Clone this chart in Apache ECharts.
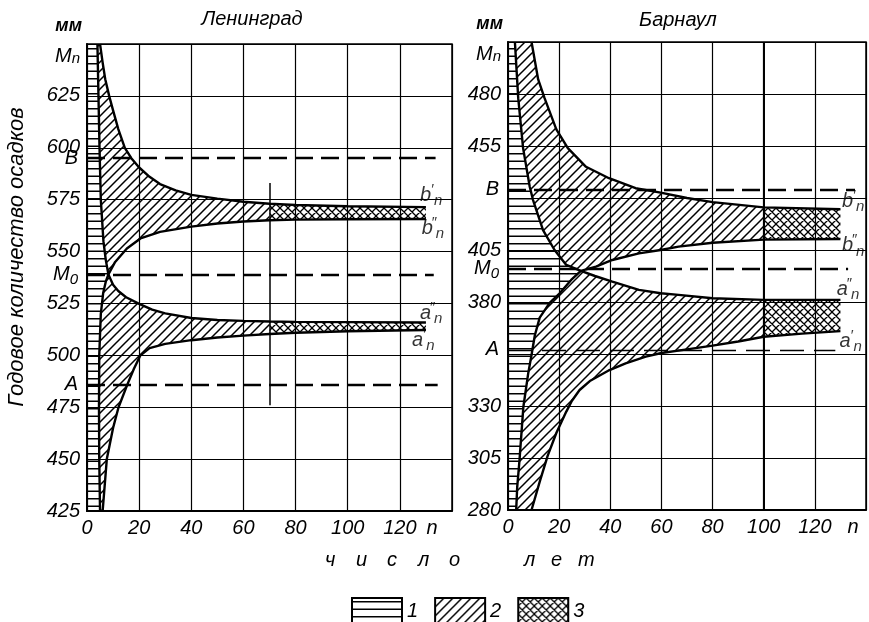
<!DOCTYPE html>
<html><head><meta charset="utf-8">
<script src="https://cdn.jsdelivr.net/npm/echarts@6/dist/echarts.min.js"></script>
<style>html,body{margin:0;padding:0;background:#fff}#c{width:869px;height:622px}</style>
</head><body><div id="c"></div>
<script>
// ---------- axes / ticks ----------
const xMin = 0, xMax = 140, xStep = 20;
const yStep = 25;

// ---------- Ленинград ----------
const lenYMin = 425, lenYMax = 650;
const lenHatchStart = 70;
const lenLevelNames = ['B', 'M0', 'A'];
const lenLevelValues = [595, 539, 486];
const lenLevelEnds = [133.7, 133, 134.5];
const lenMarker = [[70, 476], [70, 583]];
const lenOuterTop = [[5,650],[6,641],[7,633],[8.5,625],[10,618],[12,609],[14.5,600],[17,595],[20,590.5],[24,586],[28,582.5],[34,579.5],[40,577.3],[50,575.5],[60,574],[70,573],[80,572.4],[100,571.8],[130,571.4]];
const lenFallTop = [[4,650],[4.4,625],[4.8,600],[5.3,575],[6.3,555],[7.2,546],[8.2,539]];
const lenAn2 = [[8.2,539],[10,534],[12,531],[15,528],[20,524.8],[25,522],[30,520.2],[40,518],[50,517],[60,516.6],[70,516.3],[80,516.1],[100,516],[130,515.8]];
const lenRiseBottom = [[5,425],[4.7,450],[4.6,475],[4.7,500],[5.3,520],[6.2,530],[7.2,535.5],[8.2,539]];
const lenBn2 = [[8.2,539],[10.8,545],[15.3,551.5],[20.5,556.3],[28,559.5],[40,562],[50,563.5],[60,564.5],[70,565.1],[80,565.4],[100,565.6],[130,565.7]];
const lenOuterBottom = [[6,425],[7.6,450],[10,465],[12.1,475],[15.5,486],[18,493.5],[20.5,500],[24,503.5],[30,505.5],[40,507.3],[50,508.6],[60,509.5],[70,510.3],[80,510.9],[100,511.6],[130,512.2]];
const lenTagPos = [[132,577],[132.7,561],[132,520],[129,507]];
const lenTagLetters = ['b','b','a','a'];
const lenTagPrimes = ['′','″','″','′'];
const lenHiddenTicks = [];

// ---------- Барнаул ----------
const barYMin = 280, barYMax = 505;
const barHatchStart = 100;
const barLevelNames = ['B', 'M0', 'A'];
const barLevelValues = [434, 396, 357];
const barLevelEnds = [135.7, 133, 128];
const barMarker = [[100, 280], [100, 505]];
const barOuterTop = [[9.2,505],[11.8,487],[14.3,478],[18.9,463],[23.4,454],[30.5,445],[39.5,439.5],[49.9,434.7],[59.7,432.6],[70,430],[80,428],[100,425.5],[130,424.6]];
const barFallTop = [[2.7,505],[4,478],[5.9,454],[8.5,435.4],[9.8,429],[13.7,414.6],[18.2,405],[22.8,397.8],[28.5,395]];
const barAn2 = [[28.5,395],[34,392.5],[40.8,389.8],[51.2,385.8],[59.7,384.2],[66.7,383.4],[80,381.8],[100,381],[130,381]];
const barRiseBottom = [[3.2,280],[3.6,291],[4.5,304],[6,329.5],[7.9,345.7],[9.2,354.5],[10.5,364],[12.4,372.5],[16.3,379.6],[20.2,384.2],[24.7,390.6],[28.5,395]];
const barBn2 = [[28.5,395],[34.4,397],[40.8,400.2],[51.2,403.4],[59.7,405],[66.7,406.6],[80,408.5],[100,410],[130,410.3]];
const barOuterBottom = [[9.2,280],[12.5,294],[15.5,306],[18.9,317],[22.8,327.3],[25,332.5],[28,337.7],[32,342],[39.7,347.3],[46,350.5],[53.9,353.7],[60,355.5],[70,357.2],[80,359],[90,361],[100,363.3],[115,364.8],[130,366]];
const barTagPos = [[135,428.5],[135,407],[133,386],[134,361]];
const barTagLetters = ['b','b','a','a'];
const barTagPrimes = ['′','″','″','′'];
const barHiddenTicks = [355, 430];

// ---------- texts ----------
const titles = ['Ленинград', 'Барнаул'];
const yUnit = 'мм';
const yTitle = 'Годовое количество осадков';
const xTitleWord1 = ['ч','и','с','л','о'];
const xTitleWord2 = ['л','е','т'];
const legendNames = ['1', '2', '3'];

const FONT = "'Liberation Sans', Arial, sans-serif";

// ---------- hatch patterns ----------
function makeCanvas(w, h, draw) {
  const c = document.createElement('canvas');
  c.width = w; c.height = h;
  const g = c.getContext('2d');
  g.strokeStyle = '#000';
  draw(g, w, h);
  return c;
}
function slash(g, w, h) {
  g.moveTo(-1, h + 1); g.lineTo(w + 1, -1);
  g.moveTo(-1, 1); g.lineTo(1, -1);
  g.moveTo(w - 1, h + 1); g.lineTo(w + 1, h - 1);
}
function backslash(g, w, h) {
  g.moveTo(-1, -1); g.lineTo(w + 1, h + 1);
  g.moveTo(w - 1, -1); g.lineTo(w + 1, 1);
  g.moveTo(-1, h - 1); g.lineTo(1, h + 1);
}
const patH = { image: makeCanvas(15, 15, (g) => { g.lineWidth = 1.5; g.beginPath(); g.moveTo(0, 3.75); g.lineTo(15, 3.75); g.moveTo(0, 11.25); g.lineTo(15, 11.25); g.stroke(); }), repeat: 'repeat' };
const patD = { image: makeCanvas(9, 9, (g, w, h) => { g.lineWidth = 1.5; g.beginPath(); slash(g, w, h); g.stroke(); }), repeat: 'repeat' };
const patX = { image: makeCanvas(8, 8, (g, w, h) => { g.lineWidth = 1.3; g.beginPath(); slash(g, w, h); backslash(g, w, h); g.stroke(); }), repeat: 'repeat' };

// ---------- helpers ----------
const rev = (a) => a.slice().reverse();
const upTo = (c, h) => c.filter(p => p[0] <= h);
const from = (c, h) => c.filter(p => p[0] >= h);

const baseRich = {
  m: { fontSize: 20, fontStyle: 'italic', fontFamily: FONT, color: '#000', lineHeight: 26 },
  p: { fontSize: 15, fontFamily: FONT, color: '#000', verticalAlign: 'top', lineHeight: 14, width: 3 },
  s: { fontSize: 15, fontStyle: 'italic', fontFamily: FONT, color: '#000', verticalAlign: 'bottom', lineHeight: 15 },
  z: { fontSize: 10, lineHeight: 44, width: 0, verticalAlign: 'top' },
  t: { fontSize: 20, fontStyle: 'italic', fontFamily: FONT, color: '#000', lineHeight: 26, verticalAlign: 'bottom' },
  u: { fontSize: 15, fontStyle: 'italic', fontFamily: FONT, color: '#000', verticalAlign: 'bottom', lineHeight: 15 }
};
function levelLabel(name) {
  if (name === 'M0') return '{m|M}{s|0}';
  return '{m|' + name + '}';
}

function buildPanel(i, d) {
  const H = d.hatch;
  const region1 = [[0, d.yMax]].concat(d.fallTop, rev(d.riseBottom), [[0, d.yMin]]);
  const upperDiag = d.fallTop.concat(upTo(d.bn2, H), rev(upTo(d.outerTop, H)));
  const upperCross = from(d.bn2, H).concat(rev(from(d.outerTop, H)));
  const lowerDiag = d.riseBottom.concat(upTo(d.an2, H), rev(upTo(d.outerBottom, H)));
  const lowerCross = from(d.an2, H).concat(rev(from(d.outerBottom, H)));
  const groups = [[legendNames[0], [region1], patH], [legendNames[1], [upperDiag, lowerDiag], patD], [legendNames[2], [upperCross, lowerCross], patX]];
  const series = [];
  groups.forEach(([name, polys, pat]) => {
    series.push({
      type: 'custom', name, xAxisIndex: i, yAxisIndex: i, z: 1, silent: true, clip: true,
      itemStyle: { color: pat },
      encode: { x: 0, y: 1 },
      data: polys.map((p, k) => [p[0][0], p[0][1], k]),
      renderItem: (params, api) => {
        const poly = polys[api.value(2)];
        return { type: 'polygon', shape: { points: poly.map(pt => api.coord(pt)) }, style: { fill: pat, stroke: null } };
      }
    });
  });
  const outlines = [d.outerTop, d.fallTop.concat(d.an2.slice(1)), d.riseBottom.concat(d.bn2.slice(1)), d.outerBottom];
  outlines.forEach((c, k) => {
    const s = {
      type: 'line', xAxisIndex: i, yAxisIndex: i, data: c, symbol: 'none', showSymbol: false, silent: true, z: 5,
      lineStyle: { color: '#000', width: 2.4 }
    };
    if (k === 1) {
      const ml = d.levelValues.map((v, j) => [
        { coord: [0, v], name: d.levelNames[j],
          lineStyle: d.thinA && d.levelNames[j] === 'A' ? { type: [24, 10], width: 1.4, color: '#000' } : { type: [18, 8], width: 2.4, color: '#000' },
          label: { show: true, position: 'start', distance: 9, formatter: levelLabel(d.levelNames[j]), rich: baseRich } },
        { coord: [d.levelEnds[j], v] }
      ]);
      ml.push([{ coord: d.marker[0], lineStyle: { type: 'solid', width: d.markerWidth, color: '#000' }, label: { show: false } }, { coord: d.marker[1] }]);
      s.markLine = { silent: true, symbol: ['none', 'none'], animation: false, data: ml, z: 6 };
    }
    series.push(s);
  });
  series.push({
    type: 'scatter', xAxisIndex: i, yAxisIndex: i, data: d.tagPos, symbolSize: 1, silent: true, z: 7,
    itemStyle: { color: 'rgba(0,0,0,0)' },
    label: { show: true, position: 'inside', formatter: (p) => '{m|' + d.tagLetters[p.dataIndex] + '}{p|' + d.tagPrimes[p.dataIndex] + '}{s|n}', rich: baseRich }
  });
  return series;
}

const panels = [
  { yMin: lenYMin, yMax: lenYMax, hatch: lenHatchStart, outerTop: lenOuterTop, fallTop: lenFallTop, an2: lenAn2, riseBottom: lenRiseBottom, bn2: lenBn2, outerBottom: lenOuterBottom,
    levelNames: lenLevelNames, levelValues: lenLevelValues, levelEnds: lenLevelEnds, marker: lenMarker, markerWidth: 1.5, tagPos: lenTagPos, tagLetters: lenTagLetters, tagPrimes: lenTagPrimes, hidden: lenHiddenTicks, thinA: false },
  { yMin: barYMin, yMax: barYMax, hatch: barHatchStart, outerTop: barOuterTop, fallTop: barFallTop, an2: barAn2, riseBottom: barRiseBottom, bn2: barBn2, outerBottom: barOuterBottom,
    levelNames: barLevelNames, levelValues: barLevelValues, levelEnds: barLevelEnds, marker: barMarker, markerWidth: 2, tagPos: barTagPos, tagLetters: barTagLetters, tagPrimes: barTagPrimes, hidden: barHiddenTicks, thinA: true }
];

const labelFont = { color: '#000', fontSize: 20, fontStyle: 'italic', fontFamily: FONT };

const option = {
  animation: false,
  backgroundColor: '#fff',
  grid: [
    { left: 87, top: 44, width: 365, height: 467, show: true, borderColor: '#000', borderWidth: 1.5, containLabel: false },
    { left: 508, top: 42, width: 360, height: 468, show: true, borderColor: '#000', borderWidth: 1.5, containLabel: false }
  ],
  xAxis: panels.map((d, i) => ({
    type: 'value', gridIndex: i, min: xMin, max: xMax, interval: xStep,
    name: 'n', nameLocation: 'end', nameGap: i === 0 ? -20 : -13, nameMoveOverlap: false,
    nameTextStyle: Object.assign({}, labelFont, { align: 'center', verticalAlign: 'top', padding: [7, 0, 0, 0] }),
    axisLine: { show: true, lineStyle: { color: '#000', width: 2 } },
    axisTick: { show: false },
    splitLine: { show: true, lineStyle: { color: '#000', width: 1.2 } },
    axisLabel: Object.assign({}, labelFont, { margin: 7, showMinLabel: true, showMaxLabel: true, formatter: (v) => v === xMax ? '' : String(v) })
  })),
  yAxis: panels.map((d, i) => ({
    type: 'value', gridIndex: i, min: d.yMin, max: d.yMax, interval: yStep,
    name: yUnit, nameLocation: 'end', nameGap: 9, nameMoveOverlap: false,
    nameTextStyle: { color: '#000', fontSize: 18, fontStyle: 'italic', fontWeight: 'bold', fontFamily: FONT, align: 'right', padding: [0, 5, 0, 0] },
    axisLine: { show: true, lineStyle: { color: '#000', width: 2 } },
    axisTick: { show: false },
    splitLine: { show: true, lineStyle: { color: '#000', width: 1.2 } },
    axisLabel: Object.assign({}, labelFont, {
      margin: 7, showMinLabel: true, showMaxLabel: true, rich: baseRich,
      formatter: (v) => v === d.yMax ? '{z| }{t|M}{u|n}' : (d.hidden.indexOf(v) >= 0 ? '' : String(v))
    })
  })),
  legend: {
    data: legendNames, left: 346, top: 592, itemWidth: 50, itemHeight: 26, itemGap: 16, icon: 'rect',
    selectedMode: false, itemStyle: { borderColor: '#000', borderWidth: 2 },
    textStyle: { color: '#000', fontSize: 20, fontStyle: 'italic', fontFamily: FONT }
  },
  graphic: [
    { type: 'text', x: 252, y: 19, style: { text: titles[0], align: 'center', verticalAlign: 'middle', fontSize: 20, fontStyle: 'italic', fontFamily: FONT, fill: '#000' } },
    { type: 'text', x: 678, y: 20, style: { text: titles[1], align: 'center', verticalAlign: 'middle', fontSize: 20, fontStyle: 'italic', fontFamily: FONT, fill: '#000' } },
    { type: 'text', x: 17, y: 257, rotation: Math.PI / 2, style: { text: yTitle, align: 'center', verticalAlign: 'middle', fontSize: 22, fontStyle: 'italic', fontFamily: FONT, fill: '#000' } },
    { type: 'text', x: 325, y: 560, style: {
        text: xTitleWord1.map(c => '{c|' + c + '}').join('') + '{g| }' + xTitleWord2.map(c => '{d|' + c + '}').join(''),
        verticalAlign: 'middle', align: 'left',
        rich: {
          c: { width: 31, fontSize: 20, fontStyle: 'italic', fontFamily: FONT, fill: '#000' },
          g: { width: 44, fontSize: 20, fontFamily: FONT },
          d: { width: 27, fontSize: 20, fontStyle: 'italic', fontFamily: FONT, fill: '#000' }
        } } }
  ],
  series: [].concat(buildPanel(0, panels[0]), buildPanel(1, panels[1]))
};

const chart = echarts.init(document.getElementById('c'), null, { renderer: 'canvas' });
chart.setOption(option);
</script>
</body></html>
